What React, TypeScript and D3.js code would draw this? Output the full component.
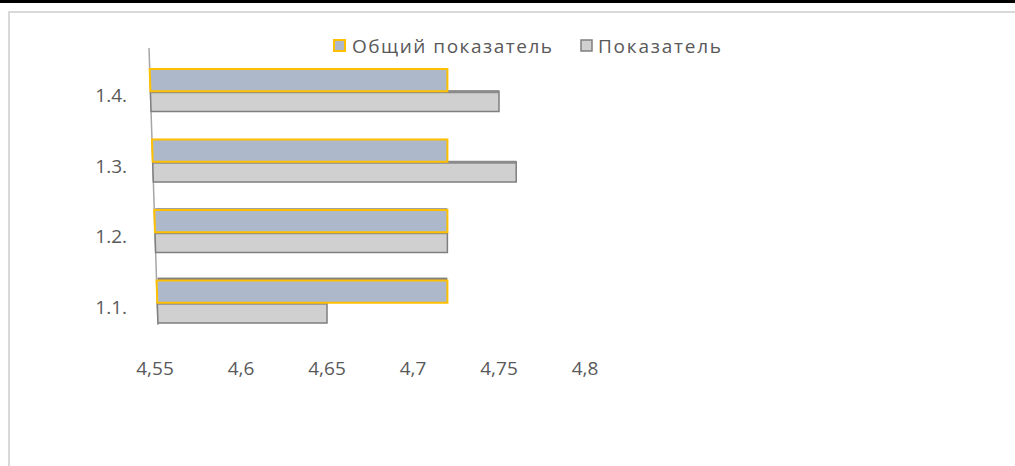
import React from "react";
import * as d3 from "d3";

const categories = ["1.4.", "1.3.", "1.2.", "1.1."];
const seriesNames = ["Общий показатель", "Показатель"];
const overallValues = [4.72, 4.72, 4.72, 4.72];
const indicatorValues = [4.75, 4.76, 4.72, 4.65];
const tickValues = [4.55, 4.6, 4.65, 4.7, 4.75, 4.8];
const tickLabels = ["4,55", "4,6", "4,65", "4,7", "4,75", "4,8"];

const W = 1015;
const H = 466;

export default function App() {
  const x = d3.scaleLinear().domain([4.55, 4.8]).range([155, 585]);
  const y = d3.scaleBand<string>().domain(categories).range([55, 337]).paddingInner(0.4).paddingOuter(0.2);
  const axisTop = 48;
  const axisBottom = 325;
  const axisX = (yy: number) => 149 + ((yy - axisTop) * 9) / (axisBottom - axisTop);
  const font = "'Open Sans', 'Noto Sans', sans-serif";
  const textColor = "#595959";

  const barPath = (y0: number, y1: number, xEnd: number) =>
    `M${axisX(y0)},${y0}L${xEnd},${y0}L${xEnd},${y1}L${axisX(y1)},${y1}Z`;

  return (
    <svg width={W} height={H} style={{ position: "absolute", left: 0, top: 0, background: "#fff" }}>
      <rect x={0} y={0} width={W} height={3} fill="#000" />
      <path d={`M9,${H}L9,12L${W},12`} fill="none" stroke="#d9d9d9" strokeWidth={2} />

      {/* legend */}
      <g fontFamily={font} fontSize={19} fill={textColor}>
        <rect x={334} y={40} width={11} height={11} fill="#adb9ca" stroke="#ffc000" strokeWidth={2} />
        <text x={352} y={53} textLength={200} lengthAdjust="spacing">{seriesNames[0]}</text>
        <rect x={581} y={40} width={11} height={11} fill="#d0d0d0" stroke="#7f7f7f" strokeWidth={1.5} />
        <text x={598} y={53} textLength={123} lengthAdjust="spacing">{seriesNames[1]}</text>
      </g>

      {/* axis line */}
      <line x1={axisX(axisTop)} y1={axisTop} x2={axisX(axisBottom)} y2={axisBottom} stroke="#a6a6a6" strokeWidth={1.5} />

      {categories.map((c, i) => {
        const y0 = y(c)!;
        const bw = y.bandwidth();
        const half = bw / 2;
        const yMid = y0 + half + 1;
        const y1 = y0 + bw;
        const xO = x(overallValues[i]);
        const xI = x(indicatorValues[i]);
        const depth = Math.max(0, (y0 - 100) / 60);
        return (
          <g key={c}>
            <text x={127} y={y0 + half + 12} textAnchor="end" fontFamily={font} fontSize={19} fill={textColor}>{c}</text>
            {/* Показатель bar */}
            <path d={barPath(yMid, y1, xI)} fill="#d0d0d0" stroke="#7f7f7f" strokeWidth={1.5} />
            <rect x={axisX(yMid)} y={yMid - 1} width={xI - axisX(yMid)} height={3} fill="#8a8a8a" />
            {/* Общий показатель bar */}
            {depth > 0 && (
              <rect x={axisX(y0) + 1} y={y0 - depth} width={xO - axisX(y0) - 1} height={depth + 1} fill="#7f7f7f" />
            )}
            <path d={barPath(y0, yMid, xO)} fill="#adb9ca" stroke="#ffc000" strokeWidth={2} />
          </g>
        );
      })}

      {/* ticks */}
      <g fontFamily={font} fontSize={19} fill={textColor}>
        {tickValues.map((t, i) => (
          <text key={t} x={x(t)} y={375} textAnchor="middle">{tickLabels[i]}</text>
        ))}
      </g>
    </svg>
  );
}
